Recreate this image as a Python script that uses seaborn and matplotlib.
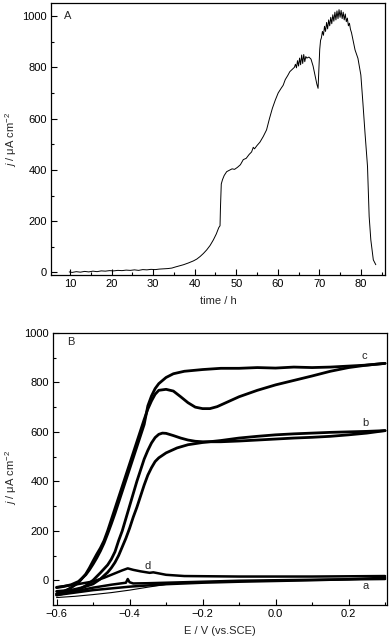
import matplotlib
matplotlib.use('Agg')
import matplotlib.pyplot as plt
from matplotlib.ticker import MultipleLocator
import seaborn as sns
import pandas as pd

# ---- panel A: current density vs time ----
time_h = [9.8, 10.5, 11.5, 12.5, 13.5, 14.5, 15.5, 16.5, 17.5, 18.5, 19.5, 20.5, 21.5, 22.5,
          23.5, 24.5, 25.5, 26.5, 27.5, 28.5, 29.5, 30.5, 31.5, 32.5, 33.5, 34.5, 35.3, 36.2,
          37.3, 38.5, 39.7, 40.5, 41.3, 42.1, 42.9, 43.7, 44.5, 45.2, 45.8, 46.1, 46.2, 46.4,
          46.7, 47.1, 47.7, 48.3, 49.0, 49.6, 50.3, 51.0, 51.7, 52.4, 53.1, 53.7, 54.1, 54.4,
          55.0, 55.7, 56.5, 57.3, 58.0, 58.7, 59.4, 60.1, 60.8, 61.3, 61.8, 62.4, 62.9, 63.5,
          64.0, 64.25, 64.5, 64.75, 65.0, 65.25, 65.5, 65.75, 66.0, 66.25, 66.5, 66.75, 67.0,
          67.5, 68.0, 68.5, 69.0, 69.4, 69.7, 69.9, 70.1, 70.3, 70.5, 70.75, 71.0, 71.25, 71.5,
          71.75, 72.0, 72.25, 72.5, 72.75, 73.0, 73.25, 73.5, 73.75, 74.0, 74.25, 74.5, 74.75,
          75.0, 75.25, 75.5, 75.75, 76.0, 76.25, 76.5, 76.75, 77.0, 77.25, 77.5, 77.75, 78.0,
          78.6, 79.3, 80.0, 80.5, 81.0, 81.6, 82.0, 82.4, 83.0, 83.6]
current_j = [2, 0, 3, 1, 4, 2, 5, 3, 6, 5, 7, 6, 8, 7,
             9, 8, 10, 8, 11, 10, 12, 11, 13, 14, 15, 17, 21, 25,
             30, 37, 45, 52, 62, 74, 88, 105, 127, 150, 175, 182, 250, 345,
             362, 378, 393, 398, 404, 402, 410, 420, 440, 445, 460, 470, 488, 482,
             495, 508, 530, 556, 600, 640, 672, 700, 718, 730, 752, 768, 783, 792,
             800, 812, 798, 826, 805, 836, 810, 848, 815, 850, 822, 842, 836,
             840, 832, 805, 765, 735, 718, 790, 870, 905, 915, 940, 925, 960, 940,
             975, 950, 985, 962, 995, 970, 1005, 980, 1015, 985, 1020, 990, 1025,
             995, 1022, 990, 1015, 985, 1008, 978, 992, 962, 972, 948, 935, 915,
             868, 835, 770, 660, 544, 414, 218, 127, 49, 30]

# ---- panel B: cyclic voltammograms (two scan branches per curve) ----
c_fwd_E = [-0.60, -0.58, -0.56, -0.54, -0.52, -0.51, -0.50, -0.49, -0.48, -0.47, -0.46, -0.45,
           -0.44, -0.43, -0.42, -0.41, -0.40, -0.39, -0.38, -0.37, -0.36, -0.35, -0.34, -0.33,
           -0.32, -0.30, -0.28, -0.26, -0.24, -0.22, -0.20, -0.18, -0.16, -0.13, -0.10, -0.05,
           0.00, 0.05, 0.10, 0.15, 0.20, 0.25, 0.30]
c_fwd_j = [-55, -45, -30, -10, 25, 50, 78, 105, 130, 160, 200, 245,
           290, 335, 380, 425, 470, 515, 560, 605, 650, 692, 725, 752,
           768, 772, 765, 742, 718, 700, 694, 694, 702, 722, 742, 768,
           790, 808, 826, 845, 860, 870, 877]
c_rev_E = [0.30, 0.25, 0.20, 0.15, 0.10, 0.05, 0.00, -0.05, -0.10, -0.15, -0.20, -0.25, -0.28,
           -0.30, -0.32, -0.33, -0.34, -0.35, -0.36, -0.37, -0.38, -0.39, -0.40, -0.41, -0.42,
           -0.43, -0.44, -0.45, -0.46, -0.47, -0.48, -0.49, -0.50, -0.51, -0.52, -0.54, -0.56,
           -0.58, -0.60]
c_rev_j = [877, 870, 866, 862, 860, 862, 858, 860, 857, 857, 852, 845, 835,
           820, 795, 775, 745, 705, 630, 585, 540, 495, 450, 405, 360,
           315, 270, 228, 188, 150, 118, 90, 65, 42, 22, -5, -18,
           -25, -30]

b_fwd_E = [-0.60, -0.57, -0.54, -0.52, -0.50, -0.48, -0.46, -0.45, -0.44, -0.43, -0.42, -0.41,
           -0.40, -0.39, -0.38, -0.37, -0.36, -0.35, -0.34, -0.33, -0.32, -0.31, -0.30, -0.28,
           -0.26, -0.24, -0.22, -0.20, -0.15, -0.10, -0.05, 0.00, 0.05, 0.10, 0.15, 0.20, 0.25,
           0.30]
b_fwd_j = [-60, -50, -38, -22, 0, 30, 62, 85, 115, 160, 200, 250,
           300, 350, 400, 445, 490, 525, 555, 577, 590, 595, 594, 585,
           575, 567, 562, 560, 560, 563, 567, 571, 575, 578, 582, 588, 595,
           605]
b_rev_E = [0.30, 0.25, 0.20, 0.15, 0.10, 0.05, 0.00, -0.05, -0.10, -0.15, -0.20, -0.24, -0.27,
           -0.30, -0.32, -0.33, -0.34, -0.35, -0.36, -0.37, -0.38, -0.39, -0.40, -0.41, -0.42,
           -0.43, -0.44, -0.45, -0.46, -0.48, -0.50, -0.53, -0.56, -0.60]
b_rev_j = [605, 602, 600, 598, 595, 592, 588, 582, 575, 565, 557, 548, 535,
           515, 495, 480, 455, 425, 385, 340, 295, 255, 210, 170, 135,
           100, 72, 50, 32, 5, -15, -30, -40, -45]

d_fwd_E = [-0.60, -0.55, -0.50, -0.47, -0.44, -0.42, -0.405, -0.39, -0.37, -0.345, -0.335,
           -0.30, -0.25, -0.10, 0.10, 0.30]
d_fwd_j = [-28, -18, -5, 10, 28, 40, 48, 42, 36, 30, 32,
           22, 17, 15, 15, 17]
d_rev_E = [0.30, 0.10, -0.10, -0.25, -0.35, -0.39, -0.40, -0.405, -0.41, -0.45, -0.50, -0.55,
           -0.60]
d_rev_j = [5, 2, -2, -8, -12, -13, -8, 5, -10, -18, -30, -45,
           -55]

a_fwd_E = [-0.60, -0.55, -0.50, -0.45, -0.40, -0.35, -0.30, -0.25, -0.20, -0.10, 0.00, 0.10,
           0.20, 0.30]
a_fwd_j = [-70, -65, -58, -50, -40, -28, -17, -10, -6, -3, -1, 1,
           3, 5]
a_rev_E = [0.30, 0.20, 0.10, 0.00, -0.10, -0.20, -0.30, -0.40, -0.50, -0.60]
a_rev_j = [10, 4, 0, -3, -6, -10, -16, -26, -40, -60]

curve_labels = ['c', 'b', 'd', 'a']
label_E = [0.242, 0.245, -0.35, 0.248]
label_j = [905, 635, 58, -22]

FS = 8


def style_axes(ax):
    for sp in ax.spines.values():
        sp.set_visible(True)
        sp.set_color('black')
        sp.set_linewidth(0.9)
    ax.tick_params(which='both', direction='in', bottom=True, left=True,
                   top=False, right=False, labelsize=FS, colors='black', width=0.8)
    ax.tick_params(which='major', length=4.5, pad=3)
    ax.tick_params(which='minor', length=2.5)
    ax.grid(False)


sns.set_theme(style='ticks')
plt.rcParams['font.family'] = ['Liberation Sans', 'DejaVu Sans']
plt.rcParams['mathtext.fontset'] = 'custom'
plt.rcParams['mathtext.rm'] = 'Liberation Sans'
plt.rcParams['mathtext.it'] = 'Liberation Sans:italic'

fig = plt.figure(figsize=(3.92, 6.44), dpi=100)
axA = fig.add_axes([0.130, 0.573, 0.852, 0.422])
axB = fig.add_axes([0.135, 0.0606, 0.852, 0.4224])

# panel A
dfA = pd.DataFrame({'t': time_h, 'j': current_j})
sns.lineplot(data=dfA, x='t', y='j', ax=axA, color='black', lw=0.7, sort=False)
axA.set_xlim(5.4, 85.8)
axA.set_ylim(-10, 1050)
axA.xaxis.set_major_locator(MultipleLocator(10))
axA.xaxis.set_minor_locator(MultipleLocator(5))
axA.yaxis.set_major_locator(MultipleLocator(200))
axA.yaxis.set_minor_locator(MultipleLocator(100))
axA.set_xlabel('time / h', fontsize=FS, labelpad=5)
axA.set_ylabel('$j$ / μA cm$^{-2}$', fontsize=FS)
axA.yaxis.set_label_coords(-0.097, 0.5)
axA.text(9.5, 1000, 'A', fontsize=FS, ha='center', va='center')
style_axes(axA)

# panel B
branches = [
    (c_fwd_E, c_fwd_j, 2.0), (c_rev_E, c_rev_j, 2.0),
    (b_fwd_E, b_fwd_j, 2.0), (b_rev_E, b_rev_j, 2.0),
    (d_fwd_E, d_fwd_j, 1.8), (d_rev_E, d_rev_j, 1.8),
    (a_fwd_E, a_fwd_j, 0.8), (a_rev_E, a_rev_j, 1.8),
]
for E, j, lw in branches:
    sns.lineplot(x=E, y=j, ax=axB, color='black', lw=lw, sort=False)
for lab, e, jj in zip(curve_labels, label_E, label_j):
    axB.text(e, jj, lab, fontsize=FS, ha='center', va='center')
axB.text(-0.562, 965, 'B', fontsize=FS, ha='center', va='center')
axB.set_xlim(-0.61, 0.305)
axB.set_ylim(-100, 1000)
axB.xaxis.set_major_locator(MultipleLocator(0.2))
axB.xaxis.set_minor_locator(MultipleLocator(0.1))
axB.yaxis.set_major_locator(MultipleLocator(200))
axB.yaxis.set_minor_locator(MultipleLocator(100))
axB.set_xlabel('E / V (vs.SCE)', fontsize=FS, labelpad=5)
axB.set_ylabel('$j$ / μA cm$^{-2}$', fontsize=FS)
axB.yaxis.set_label_coords(-0.103, 0.47)
style_axes(axB)

fig.savefig('out.png', dpi=100)
